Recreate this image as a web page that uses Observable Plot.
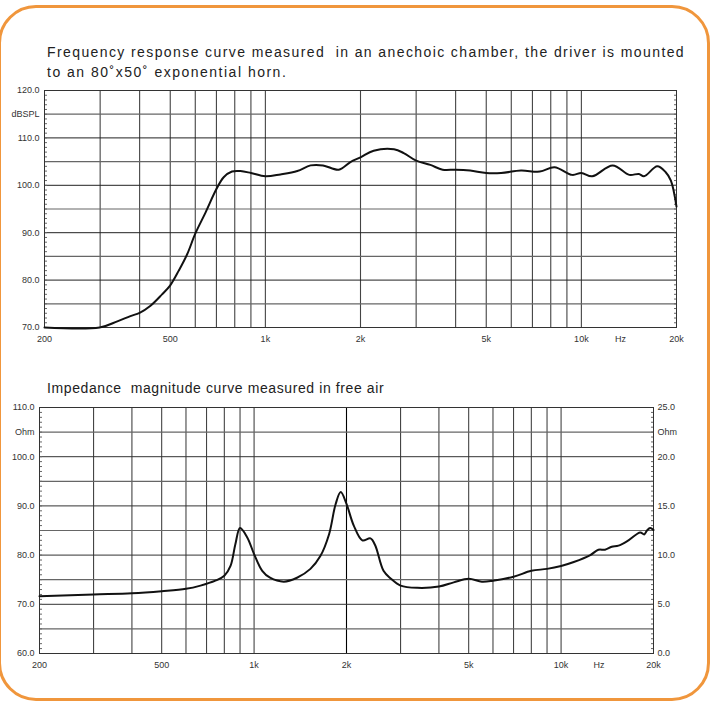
<!DOCTYPE html>
<html>
<head>
<meta charset="utf-8">
<script src="https://cdn.jsdelivr.net/npm/d3@7"></script>
<script src="https://cdn.jsdelivr.net/npm/@observablehq/plot@0.6"></script>
<style>
  html, body { margin: 0; padding: 0; background: #fff; }
  #page { position: relative; width: 711px; height: 705px; overflow: hidden; background: #fff; }
  #frame { position: absolute; left: -2px; top: 5px; width: 712px; height: 696px; box-sizing: border-box;
           border: 3px solid #f0963c; border-radius: 38px; }
  .title { position: absolute; left: 47px; font-family: "Liberation Sans", Arial, sans-serif; font-size: 14px;
           letter-spacing: 0.6px; color: #222; white-space: pre; line-height: 20px; }
  .chart { position: absolute; left: 0; }
</style>
</head>
<body>
<div id="page">
  <div id="frame"></div>
  <div class="title" style="top:42px; letter-spacing:1.4px;">Frequency response curve measured  in an anechoic chamber, the driver is mounted</div>
  <div class="title" style="top:62px; letter-spacing:1.5px;">to an 80˚x50˚ exponential horn.</div>
  <div class="title" style="top:378px;">Impedance  magnitude curve measured in free air</div>
  <div class="chart" id="c1" style="top:70px;"></div>
  <div class="chart" id="c2" style="top:387px;"></div>
</div>
<script>
// ---- Data ----
const freqTop = [200, 299, 340, 374, 400, 433, 471, 500, 532, 566, 600, 647, 700, 738, 784, 834, 900, 1000, 1116, 1262, 1390, 1522, 1707, 1858, 2000, 2201, 2553, 2740, 3000, 3327, 3638, 4000, 4448, 5000, 5570, 6440, 7390, 8220, 9360, 10000, 10820, 12560, 14180, 15200, 15780, 17380, 18460, 19200, 20000];
const splTop = [70, 70, 71.3, 72.4, 73.1, 74.6, 77, 78.9, 82, 85.5, 89.8, 94.3, 99.2, 101.7, 102.9, 103, 102.6, 101.9, 102.3, 103, 104.2, 104.2, 103.3, 104.9, 105.9, 107.3, 107.6, 106.8, 105.2, 104.3, 103.3, 103.3, 103.1, 102.6, 102.6, 103.1, 102.9, 103.8, 102.2, 102.6, 101.9, 104.2, 102.2, 102.4, 101.9, 104, 102.8, 101, 95.5];

const freqImp = [200, 300, 400, 500, 600, 669, 748, 800, 838, 869, 900, 950, 1000, 1063, 1127, 1250, 1380, 1526, 1644, 1754, 1844, 1915, 2000, 2112, 2252, 2394, 2480, 2640, 2790, 3000, 3400, 4000, 4470, 5000, 5520, 6000, 7000, 8000, 9000, 10000, 11000, 12450, 13230, 13900, 14620, 15380, 16580, 18100, 18650, 19050, 19500, 20000];
const ohmImp = [5.82, 6.0, 6.12, 6.33, 6.57, 6.9, 7.4, 7.9, 8.9, 11.1, 12.75, 11.8, 10.1, 8.4, 7.7, 7.3, 7.7, 8.6, 9.9, 12.1, 15.2, 16.4, 15.2, 13.0, 11.5, 11.7, 11.0, 8.4, 7.6, 6.9, 6.67, 6.8, 7.23, 7.6, 7.3, 7.4, 7.8, 8.4, 8.6, 8.9, 9.3, 10.0, 10.55, 10.55, 10.85, 10.96, 11.5, 12.3, 12.1, 12.5, 12.75, 12.55];

const gridFreqs = [300, 400, 500, 600, 700, 800, 900, 1000, 2000, 3000, 4000, 5000, 6000, 7000, 8000, 9000, 10000];
const xTickValues = [200, 500, 1000, 2000, 5000, 10000, 13300, 20000];
const xTickLabels = ["200", "500", "1k", "2k", "5k", "10k", "Hz", "20k"];

const splTickValues = [70, 80, 90, 100, 110, 115, 120];
const splTickLabels = ["70.0", "80.0", "90.0", "100.0", "110.0", "dBSPL", "120.0"];

// impedance chart: right axis in Ohm (0–25), left axis reads 60–110
const ohmTickValues = [0, 5, 10, 15, 20, 22.5, 25];
const ohmLeftLabels = ["60.0", "70.0", "80.0", "90.0", "100.0", "Ohm", "110.0"];
const ohmRightLabels = ["0.0", "5.0", "10.0", "15.0", "20.0", "Ohm", "25.0"];

const topRows = freqTop.map((f, i) => ({f, v: splTop[i]}));
const impRows = freqImp.map((f, i) => ({f, v: ohmImp[i]}));

const style = {fontFamily: "'Liberation Sans', Arial, sans-serif", fontSize: "9px", color: "#333", background: "transparent", overflow: "visible"};
const xLab = d => xTickLabels[xTickValues.indexOf(d)];

const chart1 = Plot.plot({
  width: 711, height: 282,
  marginLeft: 44, marginRight: 35, marginTop: 20, marginBottom: 25,
  style,
  x: {type: "log", domain: [200, 20000], label: null},
  y: {domain: [70, 120], label: null},
  marks: [
    Plot.ruleX(gridFreqs, {stroke: "#444", strokeWidth: 1.1}),
    Plot.ruleY(d3.range(75, 120, 10), {stroke: "#666", strokeWidth: 1.2}),
    Plot.ruleY(d3.range(80, 120, 10), {stroke: "#222", strokeWidth: 1}),
    Plot.axisY({anchor: "left", ticks: d3.range(70, 121, 1), tickSize: -3, text: null, label: null, stroke: "#666"}),
    Plot.axisY({anchor: "right", ticks: d3.range(70, 121, 1), tickSize: -3, text: null, label: null, stroke: "#666"}),
    Plot.axisY({anchor: "left", ticks: splTickValues, tickSize: 0, tickPadding: 5,
      tickFormat: d => splTickLabels[splTickValues.indexOf(d)], label: null}),
    Plot.axisX({ticks: xTickValues, tickSize: 0, tickPadding: 8, tickFormat: xLab, label: null}),
    Plot.frame({stroke: "#333"}),
    Plot.line(topRows, {x: "f", y: "v", stroke: "#111", strokeWidth: 2, curve: "catmull-rom"})
  ]
});
document.getElementById("c1").appendChild(chart1);

const chart2 = Plot.plot({
  width: 711, height: 291,
  marginLeft: 39, marginRight: 58, marginTop: 20, marginBottom: 25,
  style,
  x: {type: "log", domain: [200, 20000], label: null},
  y: {domain: [0, 25], label: null},
  marks: [
    Plot.ruleX(gridFreqs, {stroke: d => d === 2000 ? "#000" : "#444", strokeWidth: 1.1}),
    Plot.ruleY(d3.range(2.5, 25, 5), {stroke: "#666", strokeWidth: 1.2}),
    Plot.ruleY(d3.range(5, 25, 5), {stroke: "#333", strokeWidth: 1}),
    Plot.axisY({anchor: "left", ticks: d3.range(0, 25.01, 0.5), tickSize: -3, text: null, label: null, stroke: "#666"}),
    Plot.axisY({anchor: "right", ticks: d3.range(0, 25.01, 0.5), tickSize: -3, text: null, label: null, stroke: "#666"}),
    Plot.axisY({anchor: "left", ticks: ohmTickValues, tickSize: 0, tickPadding: 5,
      tickFormat: d => ohmLeftLabels[ohmTickValues.indexOf(d)], label: null}),
    Plot.axisY({anchor: "right", ticks: ohmTickValues, tickSize: 0, tickPadding: 4,
      tickFormat: d => ohmRightLabels[ohmTickValues.indexOf(d)], label: null}),
    Plot.axisX({ticks: xTickValues, tickSize: 0, tickPadding: 8, tickFormat: xLab, label: null}),
    Plot.frame({stroke: "#333"}),
    Plot.line(impRows, {x: "f", y: "v", stroke: "#111", strokeWidth: 2, curve: "catmull-rom"})
  ]
});
document.getElementById("c2").appendChild(chart2);
</script>
</body>
</html>
